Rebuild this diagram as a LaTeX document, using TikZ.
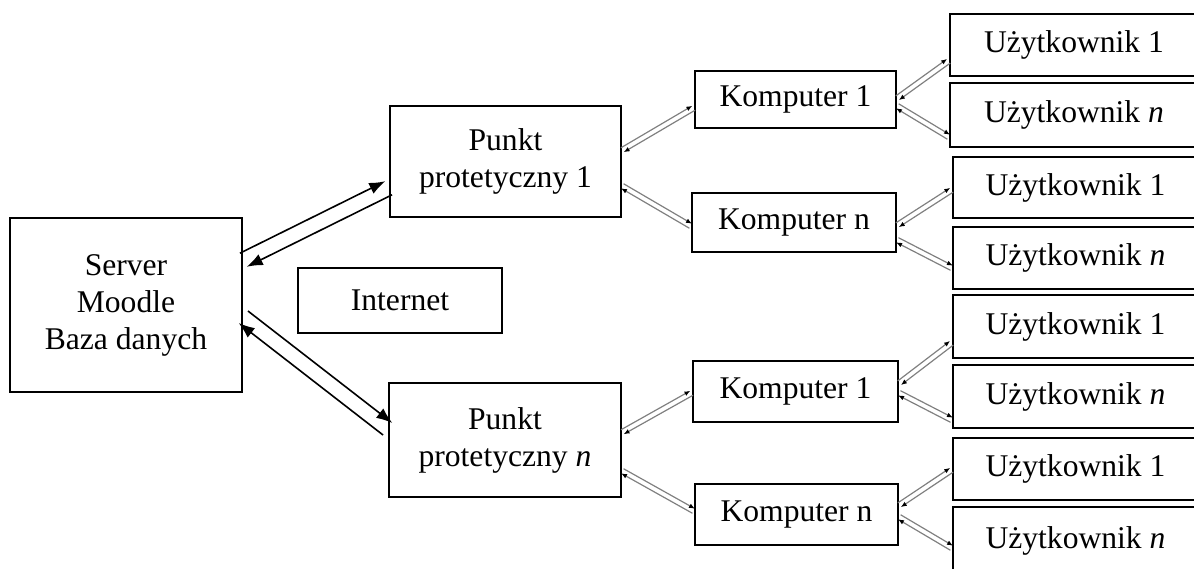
\documentclass[tikz,border=0pt]{standalone}
\usepackage{fontspec}
\setmainfont{Liberation Serif}
\usetikzlibrary{arrows.meta, calc}

% two parallel lines, one each way: style, node anchor, shift, node anchor, shift, gap
\newcommand{\twoway}[6]{%
    \coordinate (twA) at ($(#2)+(0,#3)$);
    \coordinate (twB) at ($(#4)+(0,#5)$);
    \draw[#1,->] ($(twA)!#6!90:(twB)$) -- ($(twB)!#6!-90:(twA)$);
    \draw[#1,<-] ($(twA)!#6!-90:(twB)$) -- ($(twB)!#6!90:(twA)$);
}

\begin{document}
\begin{tikzpicture}[x=0.5pt,y=-0.5pt,
        box/.style={rectangle,draw,line width=1.3pt,inner sep=0pt,align=center,font=\fontsize{15.8}{18.5}\selectfont},
        bigarr/.style={line width=0.8pt,>={Latex[length=8pt,width=6pt]}},
        smallarr/.style={line width=0.6pt,draw=black!50,>={Latex[length=3pt,width=2.4pt,color=black]}}]
        \useasboundingbox (0,0) rectangle (1194,568);
        \clip (0,0) rectangle (1194,568);

        \node at (126,305) [box, minimum width=116pt, minimum height=87pt] (server) {Server\\Moodle\\Baza danych};
        \node at (400,300.5) [box, minimum width=102pt, minimum height=32.5pt] (internet) {Internet};

        \node at (505.5,161.5) [box, minimum width=115.5pt, minimum height=55.5pt] (punkt1) {Punkt\\protetyczny 1};
        \node at (505,440) [box, minimum width=116pt, minimum height=57pt] (punktn) {Punkt\\protetyczny \textit{n}};

        \node at (795.5,99.5) [box, minimum width=100.5pt, minimum height=28.5pt] (komp1a) {Komputer 1};
        \node at (794,222.5) [box, minimum width=102pt, minimum height=29.5pt] (kompna) {Komputer n};
        \node at (795.5,391.5) [box, minimum width=102.5pt, minimum height=30.5pt] (komp1b) {Komputer 1};
        \node at (796.5,514.5) [box, minimum width=101.5pt, minimum height=30.5pt] (kompnb) {Komputer n};

        \node at (1074,45) [box, minimum width=124pt, minimum height=31pt] (user1) {Użytkownik 1};
        \node at (1074,115) [box, minimum width=124pt, minimum height=32pt] (user2) {Użytkownik \textit{n}};
        \node at (1075.5,187.5) [box, minimum width=122.5pt, minimum height=30.5pt] (user3) {Użytkownik 1};
        \node at (1075.5,258) [box, minimum width=122.5pt, minimum height=31pt] (user4) {Użytkownik \textit{n}};
        \node at (1075.5,326.5) [box, minimum width=122.5pt, minimum height=31.5pt] (user5) {Użytkownik 1};
        \node at (1075.5,396.5) [box, minimum width=122.5pt, minimum height=31.5pt] (user6) {Użytkownik \textit{n}};
        \node at (1075.5,469) [box, minimum width=122.5pt, minimum height=31pt] (user7) {Użytkownik 1};
        \node at (1075.5,541) [box, minimum width=122.5pt, minimum height=34pt] (user8) {Użytkownik \textit{n}};

        % server <-> punkty
        \twoway{bigarr}{server.east}{-45}{punkt1.west}{26.5}{3.8pt}
        \twoway{bigarr}{server.east}{12}{punktn.west}{-11}{3.8pt}

        % punkty <-> komputery
        \twoway{smallarr}{punkt1.east}{-11.5}{komp1a.west}{8.5}{1.3pt}
        \twoway{smallarr}{punkt1.east}{24.5}{kompna.west}{3.5}{1.3pt}
        \twoway{smallarr}{punktn.east}{-8}{komp1b.west}{1.5}{1.3pt}
        \twoway{smallarr}{punktn.east}{31}{kompnb.west}{-3.5}{1.3pt}

        % komputery <-> uzytkownicy
        \twoway{smallarr}{komp1a.east}{-1.5}{user1.west}{16}{1.3pt}
        \twoway{smallarr}{komp1a.east}{6.5}{user2.west}{22}{1.3pt}
        \twoway{smallarr}{kompna.east}{2.5}{user3.west}{2.5}{1.3pt}
        \twoway{smallarr}{kompna.east}{17.5}{user4.west}{10}{1.3pt}
        \twoway{smallarr}{komp1b.east}{-8.5}{user5.west}{16.5}{1.3pt}
        \twoway{smallarr}{komp1b.east}{1.5}{user6.west}{23.5}{1.3pt}
        \twoway{smallarr}{kompnb.east}{-9.5}{user7.west}{1}{1.3pt}
        \twoway{smallarr}{kompnb.east}{2.5}{user8.west}{7}{1.3pt}
\end{tikzpicture}
\end{document}
